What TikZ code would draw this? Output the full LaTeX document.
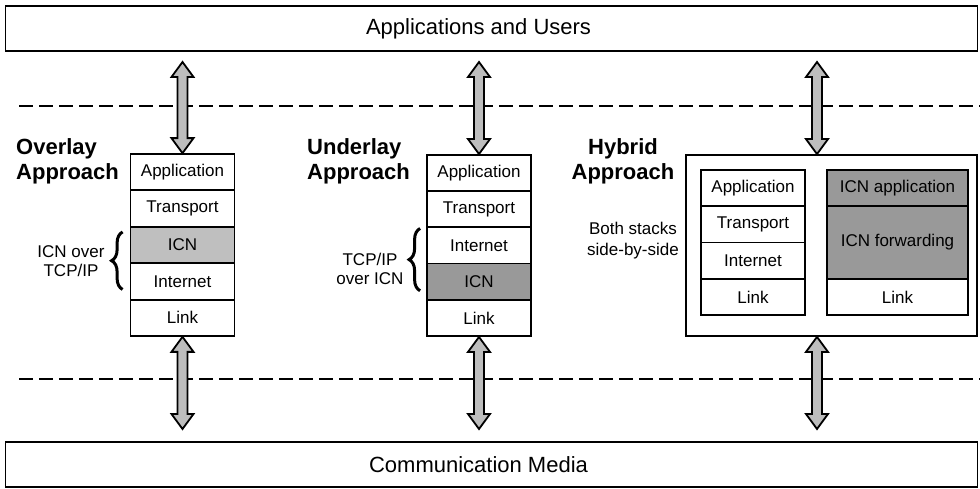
\documentclass[tikz,border=0pt]{standalone}
\usepackage{fontspec}
\setmainfont{Liberation Sans}
\usetikzlibrary{calc,decorations.pathreplacing}

\definecolor{arrowgray}{gray}{0.74}
\definecolor{layerlight}{gray}{0.75}
\definecolor{layerdark}{gray}{0.6}

% vertical block arrow with a head at both ends, from (#1) down to (#2)
\newcommand{\dblarrow}[2]{%
  \draw[linkarrow] (#1) -- ++(-11,15) -- ++(6,0) -- ($(#2)+(-5,-15)$) -- ++(-6,0)
    -- (#2) -- ++(11,-15) -- ++(-6,0) -- ($(#1)+(5,15)$) -- ++(6,0) -- cycle;}

\begin{document}
\begin{tikzpicture}
  [x=1pt,y=-1pt,
   every node/.style={font=\fontsize{17}{19}\selectfont,inner sep=0pt},
   layer/.style={draw,line width=1.8pt,minimum width=104pt,minimum height=36.3pt,fill=white},
   band/.style={draw,line width=1.5pt,minimum width=972pt,minimum height=45pt,
                font=\fontsize{22}{26}\selectfont},
   title/.style={font=\fontsize{22}{25}\selectfont\bfseries},
   note/.style={align=center},
   bracket/.style={decorate,decoration={brace,amplitude=11pt},line width=3pt},
   linkarrow/.style={draw,line width=1.8pt,fill=arrowgray,line join=miter},
   divider/.style={dash pattern=on 14pt off 6pt,line width=1.5pt}]
  \useasboundingbox (0,0) rectangle (980,489);

  \node [band] (users) at (491.5,28.5) {\hspace*{-26pt}Applications and Users};
  \node [band] (media) at (491.5,464.5) {\hspace*{-26pt}Communication Media};

  \draw [divider] (19,106) -- (980,106);
  \draw [divider] (19,379) -- (980,379);

  % overlay
  \node [title,align=left,anchor=west] (otitle) at (16,161) {Overlay\\Approach};
  \node [layer] (oa) at (182.5,172.2) {Application};
  \node [layer] (ot) at (182.5,208.6) {Transport};
  \node [layer,fill=layerlight] (oi) at (182.5,245) {ICN};
  \node [layer] (on) at (182.5,281.4) {Internet};
  \node [layer] (ol) at (182.5,317.8) {Link};
  \node [note] (onote) at (71,261) {ICN over\\TCP/IP};
  \draw [bracket] ($(on.south west)+(-7,-11)$) -- ($(oi.north west)+(-7,6)$);

  % underlay
  \node [title,align=left,anchor=west] (utitle) at (307,161) {Underlay\\Approach};
  \node [layer] (ua) at (479,173.1) {Application};
  \node [layer] (ut) at (479,209.3) {Transport};
  \node [layer] (ui) at (479,245.5) {Internet};
  \node [layer,fill=layerdark] (uc) at (479,281.7) {ICN};
  \node [layer] (ul) at (479,317.9) {Link};
  \node [note] (unote) at (370,269) {TCP/IP\\over ICN};
  \draw [bracket] ($(uc.south west)+(-6,-10)$) -- ($(ui.north west)+(-6,2)$);

  % hybrid
  \node [title,align=center] (htitle) at (623,161) {Hybrid\\Approach};
  \node [draw,line width=1.8pt,minimum width=291pt,minimum height=181pt] (hbox) at (831.5,245.5) {};
  \node [layer] (ha) at (753,188.1) {Application};
  \node [layer] (ht) at (753,224.4) {Transport};
  \node [layer] (hi) at (753,260.6) {Internet};
  \node [layer] (hl) at (753,296.9) {Link};
  \node [layer,minimum width=141pt,fill=layerdark] (ca) at (897.5,188.1) {ICN application};
  \node [layer,minimum width=141pt,minimum height=72.6pt,fill=layerdark] (cf) at (897.5,242.5) {ICN forwarding};
  \node [layer,minimum width=141pt] (cl) at (897.5,296.9) {Link};
  \node [note,font=\fontsize{17}{21}\selectfont] (hnote) at (633,240.5) {Both stacks\\side-by-side};

  % free ends of the arrows
  \coordinate (otop) at (182.5,62);
  \coordinate (utop) at (479,62);
  \coordinate (htop) at (817,62);
  \coordinate (obot) at (182.5,429);
  \coordinate (ubot) at (479,429);
  \coordinate (hbot) at (817,429);

  \foreach \from/\to in {otop/oa.north,utop/ua.north,htop/hbox.north-|htop,
                         ol.south/obot,ul.south/ubot,hbox.south-|hbot/hbot}
    \dblarrow{\from}{\to};

\end{tikzpicture}
\end{document}
